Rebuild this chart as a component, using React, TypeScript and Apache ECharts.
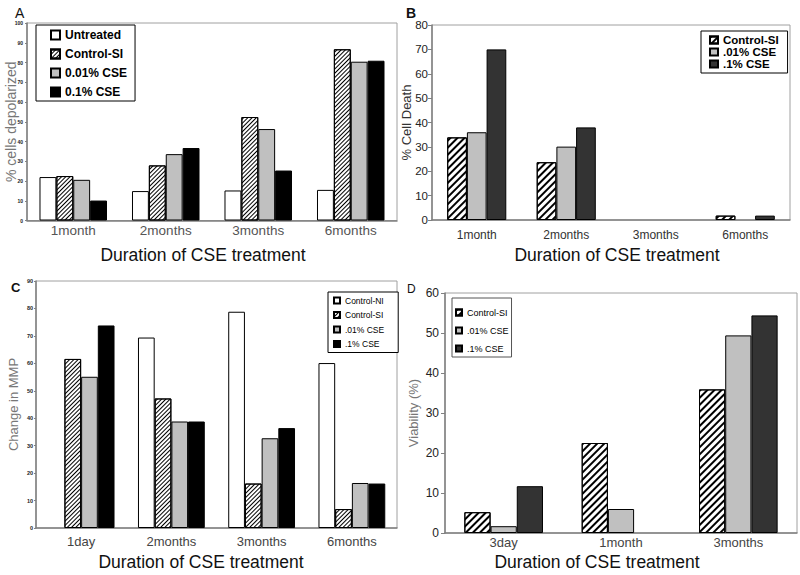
import React, { useEffect, useRef } from "react";
import * as echarts from "echarts";

// Panel A
const aCategories = ["1month", "2months", "3months", "6months"];
const aUntreated = [22.0, 14.9, 15.2, 15.5];
const aControlSI = [22.5, 27.9, 52.4, 86.7];
const aCse001 = [20.6, 33.6, 46.3, 80.4];
const aCse01 = [10.1, 36.7, 25.3, 80.9];

// Panel B
const bCategories = ["1month", "2months", "3months", "6months"];
const bControlSI = [33.9, 23.7, 0, 1.8];
const bCse001 = [36.0, 30.1, 0, 0];
const bCse01 = [70.0, 38.0, 0, 1.8];

// Panel C
const cCategories = ["1day", "2months", "3months", "6months"];
const cControlNI = [0, 69.4, 78.8, 60.1];
const cControlSI = [61.6, 47.2, 16.2, 6.9];
const cCse001 = [55.1, 38.8, 32.7, 16.4];
const cCse01 = [73.8, 38.8, 36.4, 16.2];

// Panel D
const dCategories = ["3day", "1month", "3months"];
const dControlSI = [5.2, 22.5, 35.9];
const dCse001 = [1.7, 6.0, 49.4];
const dCse01 = [11.7, 0, 54.4];

const FONT = "'Liberation Sans', Arial, sans-serif";
const AXIS_GRAY = "#808080";

const fineHatch = {
  symbol: "rect",
  symbolSize: 1,
  color: "#000",
  dashArrayX: [1, 0],
  dashArrayY: [1, 2],
  rotation: -Math.PI / 4,
};
const thickHatch = {
  symbol: "rect",
  symbolSize: 1,
  color: "#000",
  dashArrayX: [1, 0],
  dashArrayY: [2, 3],
  rotation: -Math.PI / 4,
};

const toData = (arr: number[]) => arr.map((v) => (v === 0 ? "-" : v));

function bar(name: string, idx: number, values: number[], color: string, gapPct: string, decal?: any) {
  return {
    type: "bar",
    name,
    xAxisIndex: idx,
    yAxisIndex: idx,
    data: toData(values),
    barGap: "0%",
    barCategoryGap: gapPct,
    itemStyle: {
      color,
      borderColor: "#000",
      borderWidth: 1,
      ...(decal ? { decal } : {}),
    },
  };
}

export default function App() {
  const ref = useRef<HTMLDivElement>(null);
  useEffect(() => {
    if (!ref.current) return;
    const chart = echarts.init(ref.current, null, { renderer: "svg" });

    const grids = [
      { left: 27, top: 23, width: 370, height: 197.5 },
      { left: 432, top: 25, width: 358, height: 195 },
      { left: 36, top: 281, width: 361, height: 247 },
      { left: 445, top: 293, width: 352, height: 240 },
    ].map((g) => ({ ...g, show: true, borderColor: "#a0a0a0", borderWidth: 1 }));

    const xAxisBase = (idx: number, data: string[], fontSize: number, margin: number, color: string) => ({
      type: "category",
      gridIndex: idx,
      data,
      axisLine: { lineStyle: { color: AXIS_GRAY, width: 1.5 } },
      axisTick: { show: false },
      axisLabel: { fontFamily: FONT, fontSize, color, margin },
    });

    const yAxisBase = (
      idx: number,
      max: number,
      name: string,
      nameGap: number,
      nameSize: number,
      nameColor: string,
      labelSize: number,
      labelMargin: number,
      tickLen: number,
      bold: boolean
    ) => ({
      type: "value",
      gridIndex: idx,
      min: 0,
      max,
      interval: 10,
      name,
      nameLocation: "middle",
      nameGap,
      nameMoveOverlap: false,
      nameTextStyle: { fontFamily: FONT, fontSize: nameSize, color: nameColor },
      splitLine: { show: false },
      axisLine: { show: true, lineStyle: { color: AXIS_GRAY, width: 1.5 } },
      axisTick: { show: true, length: tickLen, lineStyle: { color: AXIS_GRAY } },
      axisLabel: {
        fontFamily: FONT,
        fontSize: labelSize,
        color: "#222",
        margin: labelMargin,
        fontWeight: bold ? "bold" : "normal",
      },
    });

    const legendFmt = (n: string) => n.split("|")[1];

    const option: any = {
      animation: false,
      backgroundColor: "#fff",
      grid: grids,
      xAxis: [
        xAxisBase(0, aCategories, 13.5, 3, "#555"),
        xAxisBase(1, bCategories, 12, 9, "#333"),
        xAxisBase(2, cCategories, 13, 7, "#444"),
        xAxisBase(3, dCategories, 13, 3, "#444"),
      ],
      yAxis: [
        yAxisBase(0, 100, "% cells depolarized", 9, 14, "#777", 5, 4, 2, true),
        yAxisBase(1, 80, "% Cell Death", 19.5, 13, "#333", 11.5, 4, 4, false),
        yAxisBase(2, 90, "Change in MMP", 16.5, 13, "#777", 5.5, 3, 2, true),
        yAxisBase(3, 60, "Viability (%)", 25.5, 13, "#777", 12, 6, 4, false),
      ],
      legend: [
        {
          data: ["A|Untreated", "A|Control-SI", "A|0.01% CSE", "A|0.1% CSE"],
          formatter: legendFmt,
          orient: "vertical",
          left: 36,
          top: 25,
          padding: [4, 8, 3, 14],
          itemWidth: 9,
          itemHeight: 9,
          itemGap: 7,
          borderColor: "#000",
          borderWidth: 1,
          backgroundColor: "#fff",
          icon: "rect",
          textStyle: { fontFamily: FONT, fontSize: 12, fontWeight: "bold", color: "#000" },
        },
        {
          data: ["B|Control-SI", "B|.01% CSE", "B|.1% CSE"],
          formatter: legendFmt,
          orient: "vertical",
          left: 701,
          top: 31,
          padding: [3, 9, 3, 8],
          itemWidth: 8,
          itemHeight: 7,
          itemGap: 0,
          borderColor: "#000",
          borderWidth: 1,
          backgroundColor: "#fff",
          icon: "rect",
          textStyle: { fontFamily: FONT, fontSize: 11.5, fontWeight: "bold", color: "#000" },
        },
        {
          data: ["C|Control-NI", "C|Control-SI", "C|.01% CSE", "C|.1% CSE"],
          formatter: legendFmt,
          orient: "vertical",
          left: 328,
          top: 292,
          padding: [4, 14, 4, 5],
          itemWidth: 6,
          itemHeight: 6,
          itemGap: 5.5,
          borderColor: "#000",
          borderWidth: 1,
          backgroundColor: "#fff",
          icon: "rect",
          textStyle: { fontFamily: FONT, fontSize: 8.5, color: "#000" },
        },
        {
          data: ["D|Control-SI", "D|.01% CSE", "D|.1% CSE"],
          formatter: legendFmt,
          orient: "vertical",
          left: 452,
          top: 298,
          padding: [10, 3, 4, 3],
          itemWidth: 6,
          itemHeight: 6,
          itemGap: 9,
          borderColor: "#555",
          borderWidth: 1,
          backgroundColor: "#fff",
          icon: "rect",
          textStyle: { fontFamily: FONT, fontSize: 9, color: "#000" },
        },
      ],
      series: [
        bar("A|Untreated", 0, aUntreated, "#fff", "27%"),
        bar("A|Control-SI", 0, aControlSI, "#fff", "27%", fineHatch),
        bar("A|0.01% CSE", 0, aCse001, "#c0c0c0", "27%"),
        bar("A|0.1% CSE", 0, aCse01, "#000", "27%"),
        bar("B|Control-SI", 1, bControlSI, "#fff", "34%", thickHatch),
        bar("B|.01% CSE", 1, bCse001, "#c0c0c0", "34%"),
        bar("B|.1% CSE", 1, bCse01, "#333", "34%"),
        bar("C|Control-NI", 2, cControlNI, "#fff", "26%"),
        bar("C|Control-SI", 2, cControlSI, "#fff", "26%", fineHatch),
        bar("C|.01% CSE", 2, cCse001, "#c0c0c0", "26%"),
        bar("C|.1% CSE", 2, cCse01, "#000", "26%"),
        bar("D|Control-SI", 3, dControlSI, "#fff", "33%", thickHatch),
        bar("D|.01% CSE", 3, dCse001, "#c0c0c0", "33%"),
        bar("D|.1% CSE", 3, dCse01, "#333", "33%"),
      ],
      graphic: [
        { type: "text", left: 15, top: 6, style: { text: "A", fontFamily: FONT, fontSize: 14, fill: "#111" } },
        { type: "text", left: 406, top: 6, style: { text: "B", fontFamily: FONT, fontSize: 14, fontWeight: "bold", fill: "#111" } },
        { type: "text", left: 11, top: 281, style: { text: "C", fontFamily: FONT, fontSize: 13, fontWeight: "bold", fill: "#111" } },
        { type: "text", left: 407, top: 283, style: { text: "D", fontFamily: FONT, fontSize: 12, fill: "#111" } },
        { type: "text", x: 203, y: 255, style: { text: "Duration of CSE treatment", fontFamily: FONT, fontSize: 17.5, fill: "#111", align: "center", verticalAlign: "middle" } },
        { type: "text", x: 617, y: 255, style: { text: "Duration of CSE treatment", fontFamily: FONT, fontSize: 17.5, fill: "#111", align: "center", verticalAlign: "middle" } },
        { type: "text", x: 201, y: 562, style: { text: "Duration of CSE treatment", fontFamily: FONT, fontSize: 17.5, fill: "#111", align: "center", verticalAlign: "middle" } },
        { type: "text", x: 597, y: 562, style: { text: "Duration of CSE treatment", fontFamily: FONT, fontSize: 17.5, fill: "#111", align: "center", verticalAlign: "middle" } },
      ],
    };
    chart.setOption(option);
    return () => chart.dispose();
  }, []);
  return (
    <div
      ref={ref}
      style={{ position: "fixed", left: 0, top: 0, width: 800, height: 575, background: "#fff" }}
    />
  );
}
